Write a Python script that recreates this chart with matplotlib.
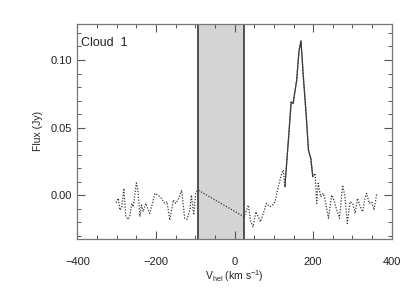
import matplotlib
matplotlib.use("Agg")
import matplotlib.pyplot as plt
from matplotlib.ticker import MultipleLocator
import numpy as np

plt.rcParams['font.family'] = ['Liberation Sans', 'DejaVu Sans']

# Spectrum (heliocentric velocity km/s, flux Jy)
velocity = [-302, -296, -292, -287, -282, -277, -271, -267, -262, -258,
            -250, -246, -241, -237, -233, -226, -220, -216, -209, -203,
            -195, -186, -178, -172, -165, -156, -150, -144, -135, -127,
            -121, -114, -110, -104, -99, -93,
            24, 35, 41, 47, 54, 60, 66, 73, 81, 90, 97, 103, 111, 120, 124,
            128, 137, 144, 149, 158, 164, 169, 175, 182, 188, 194, 199,
            205, 209, 213, 219, 226, 232, 239, 247, 253, 260, 267, 275, 281,
            287, 294, 301, 307, 313, 320, 326, 332, 336, 343, 349, 355, 362]
flux = [-0.0054, -0.0022, -0.0109, -0.0084, 0.0052, -0.0157, -0.0177, -0.0153,
        -0.0059, -0.0084, 0.0092, 0.0037, -0.0157, -0.0071, -0.0121, -0.0059,
        -0.0108, -0.0133, -0.0059, 0.0015, 0.0002, -0.0022, -0.0059, -0.0047,
        -0.0182, -0.0034, -0.0059, -0.0034, 0.0039, -0.0170, -0.0177, -0.0108,
        0.0002, -0.0145, 0.0020, 0.0039,
        -0.0158, -0.0072, -0.0195, -0.0232, -0.0121, -0.0158, -0.0195, -0.0133,
        -0.0059, -0.0084, -0.0072, -0.0047, 0.0064, 0.0162, 0.0187,
        0.0064, 0.0410, 0.0690, 0.0680, 0.0850, 0.1070, 0.1140, 0.0876, 0.0605,
        0.0334, 0.0273, 0.0138,
        0.0162, -0.0059, 0.0089, -0.0010, 0.0015, -0.0059, -0.0170, 0.0002,
        -0.0034, -0.0108, -0.0170, 0.0076, -0.0010, -0.0207, -0.0047, -0.0059,
        -0.0133, -0.0022, -0.0084, -0.0121, -0.0022, 0.0015, -0.0059, -0.0047,
        -0.0108, 0.0015]
solid_range = [128, 199]        # velocity range drawn as solid line
masked_range = [-93, 24]        # shaded (excluded) velocity range
label_text = "Cloud  1"

v = np.array(velocity)
f = np.array(flux)

fig = plt.figure(figsize=(4.15, 2.97), dpi=100)
ax = fig.add_axes([0.1867, 0.1963, 0.7572, 0.7229])

ax.axvspan(masked_range[0], masked_range[1], facecolor='#d4d4d4', edgecolor='none', zorder=1)
for xv in masked_range:
    ax.axvline(xv, color='#444444', lw=1.3, zorder=2)

ax.plot(v, f, color='#3a3a3a', lw=0.9, linestyle=(0, (1, 1.3)), zorder=3)
sel = (v >= solid_range[0]) & (v <= solid_range[1])
ax.plot(v[sel], f[sel], color='#3a3a3a', lw=0.9, zorder=4)

ax.set_xlim(-400, 400)
ax.set_ylim(-0.032, 0.1266)
ax.set_xticks([-400, -200, 0, 200, 400])
ax.set_yticks([0.0, 0.05, 0.10])
ax.set_yticklabels(['0.00', '0.05', '0.10'])
ax.xaxis.set_minor_locator(MultipleLocator(50))
ax.yaxis.set_minor_locator(MultipleLocator(0.01))
ax.tick_params(which='both', direction='in', top=True, right=True,
               colors='#555555', labelcolor='#222222', labelsize=8)
ax.tick_params(which='major', length=6, width=0.8)
ax.tick_params(which='minor', length=3, width=0.7)
ax.tick_params(axis='x', pad=13)
ax.tick_params(axis='y', pad=4)
for s in ax.spines.values():
    s.set_color('#777777')
    s.set_linewidth(0.9)

ax.set_ylabel('Flux (Jy)', fontsize=7.5, color='#222222', labelpad=5)
ax.set_xlabel(r'V$_{\mathregular{hel}}$ (km s$^{\mathregular{-1}}$)', fontsize=7.5,
              color='#222222', labelpad=1)
ax.text(0.012, 0.94, label_text, transform=ax.transAxes, fontsize=9,
        color='#222222', va='top', ha='left')

fig.savefig('out.png', dpi=100)
